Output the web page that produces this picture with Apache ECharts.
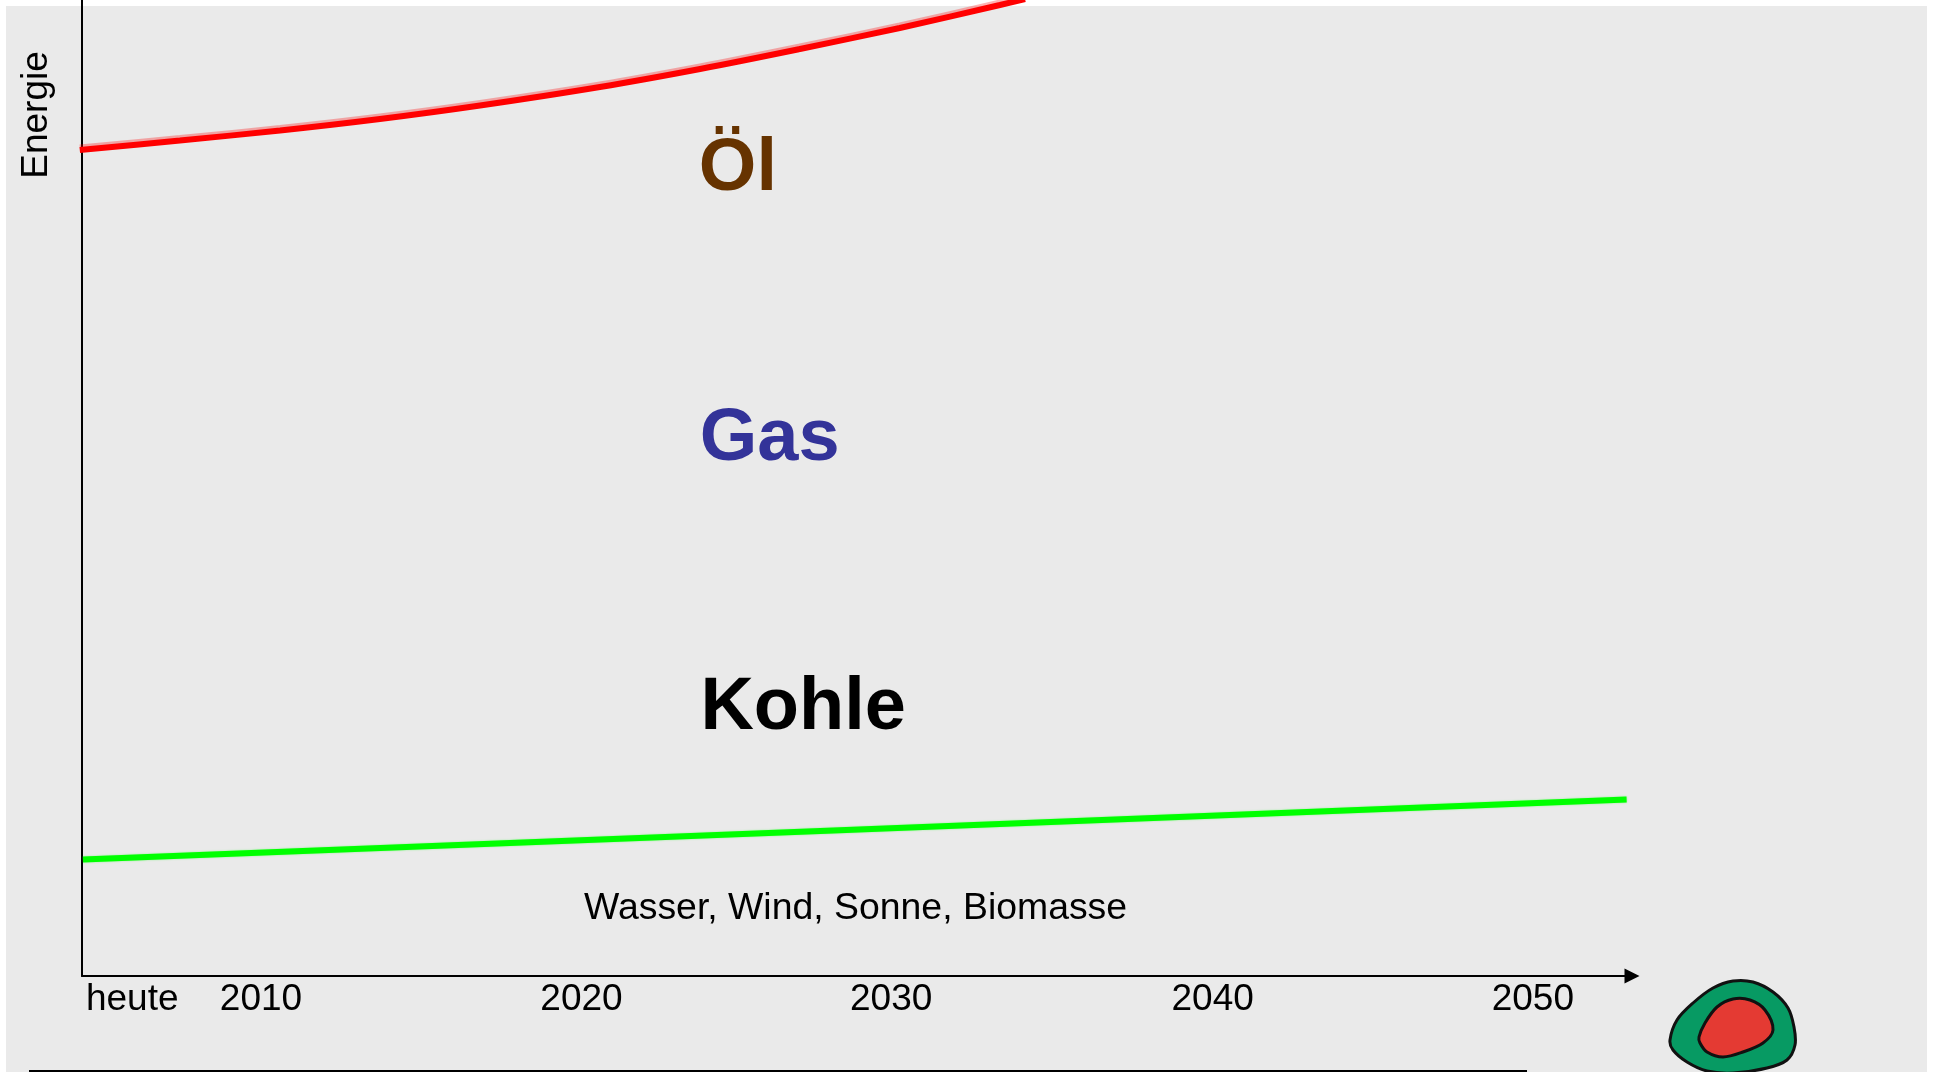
<!DOCTYPE html>
<html>
<head>
<meta charset="utf-8">
<title>Energie</title>
<script src="https://cdn.jsdelivr.net/npm/echarts@6/dist/echarts.min.js"></script>
<style>
    html, body { margin: 0; padding: 0; background: #fff; }
    #chart { width: 1933px; height: 1072px; }
</style>
</head>
<body>
<div id="chart"></div>
<script>
// Achsen
const tickYears = [2005.95, 2010, 2020.08, 2029.82, 2039.93, 2050];
const tickLabels = ["heute", "2010", "2020", "2030", "2040", "2050"];

// Kurven (Energie in beliebigen Einheiten)
const oilYears = [2004.3, 2007.45, 2010.6, 2013.74, 2016.89, 2020.66, 2023.81, 2026.95, 2030.09, 2033.24, 2034.03];
const oilValues = [826, 835.5, 845.5, 857, 870.5, 889, 907, 927, 948, 971, 977];
const renewableYears = [2004.4, 2028, 2052.95];
const renewableValues = [116.5, 145.5, 176.5];

// Beschriftungen im Diagramm
const fuelNames = ["Öl", "Gas", "Kohle"];
const fuelYears = [2023.77, 2023.8, 2023.82];
const fuelValues = [806, 536, 267];
const fuelColors = ["#663300", "#333399", "#000000"];
const renewableName = "Wasser, Wind, Sonne, Biomasse";
const renewableNameAt = [2028.7, 67];

// Logo unten rechts
const blobOuter = [[1670,1040],[1677,1020],[1693,1003],[1713,988],[1733,981],[1753,982],[1773,992],[1788,1008],[1794,1027],[1795,1045],[1787,1060],[1767,1068],[1733,1073],[1707,1071],[1687,1062],[1673,1050]];
const blobInner = [[1699,1037],[1705,1023],[1717,1007],[1733,999],[1750,1000],[1765,1010],[1773,1030],[1763,1043],[1743,1052],[1723,1057],[1707,1052],[1700,1043]];

const fontName = "Liberation Sans";
let chart = echarts.init(document.getElementById("chart"));

function zip(xs, ys) {
    return xs.map((x, i) => [x, ys[i]]);
}

let option = {
    animation: false,
    backgroundColor: "#ffffff",
    grid: { left: 82, top: 0, width: 1550, height: 976 },
    xAxis: {
        type: "value",
        min: 2004.37,
        max: 2053.12,
        splitLine: { show: false },
        axisTick: { show: false },
        axisLine: {
            onZero: false,
            symbol: ["none", "triangle"],
            symbolSize: [15, 15],
            lineStyle: { color: "#000", width: 2 }
        },
        axisLabel: {
            customValues: tickYears,
            margin: 5,
            color: "#000",
            fontFamily: fontName,
            fontSize: 37,
            hideOverlap: false,
            formatter: (v) => tickLabels[tickYears.indexOf(v)]
        }
    },
    yAxis: {
        type: "value",
        min: 0,
        max: 976,
        splitLine: { show: false },
        axisTick: { show: false },
        axisLabel: { show: false },
        axisLine: { show: true, onZero: false, lineStyle: { color: "#000", width: 2 } }
    },
    series: [{
        name: "Öl",
        type: "line",
        smooth: 0.33,
        showSymbol: false,
        clip: false,
        data: zip(oilYears, oilValues),
        lineStyle: { color: "#ff0000", width: 6, cap: "butt", shadowColor: "rgba(255,0,0,0.3)", shadowOffsetY: -2.5, shadowBlur: 0 }
    }, {
        name: "Wasser, Wind, Sonne, Biomasse",
        type: "line",
        showSymbol: false,
        data: zip(renewableYears, renewableValues),
        lineStyle: { color: "#00ff00", width: 6, cap: "butt", shadowColor: "rgba(0,255,0,0.4)", shadowBlur: 2 }
    }, {
        name: "Energieträger",
        type: "scatter",
        symbolSize: 0,
        itemStyle: { opacity: 1 },
        data: fuelNames.map((name, i) => ({
            name: name,
            value: [fuelYears[i], fuelValues[i]],
            label: { color: fuelColors[i] }
        })),
        label: {
            show: true,
            position: "right",
            distance: 0,
            fontFamily: fontName,
            fontWeight: "bold",
            fontSize: 74,
            opacity: 1,
            formatter: "{b}"
        }
    }, {
        name: "Erneuerbare",
        type: "scatter",
        symbolSize: 0,
        itemStyle: { opacity: 1 },
        data: [{ name: renewableName, value: renewableNameAt }],
        label: {
            show: true,
            position: "inside",
            color: "#000",
            fontFamily: fontName,
            fontSize: 37.4,
            opacity: 1,
            formatter: "{b}"
        }
    }],
    graphic: [{
        type: "rect",
        z: -10,
        shape: { x: 6, y: 6, width: 1921, height: 1066 },
        style: { fill: "#eaeaea" }
    }, {
        type: "rect",
        z: 5,
        shape: { x: 29, y: 1070, width: 1498, height: 2 },
        style: { fill: "#000" }
    }, {
        type: "text",
        z: 5,
        x: 37,
        y: 115,
        rotation: Math.PI / 2,
        style: {
            text: "Energie",
            fill: "#000",
            font: "37px " + fontName,
            align: "center",
            verticalAlign: "middle"
        }
    }, {
        type: "polygon",
        z: 5,
        shape: { points: blobOuter, smooth: 0.33 },
        style: { fill: "#079a63", stroke: "#111", lineWidth: 3 }
    }, {
        type: "polygon",
        z: 6,
        shape: { points: blobInner, smooth: 0.33 },
        style: { fill: "#e43a33", stroke: "#111", lineWidth: 3 }
    }]
};

chart.setOption(option);
</script>
</body>
</html>
